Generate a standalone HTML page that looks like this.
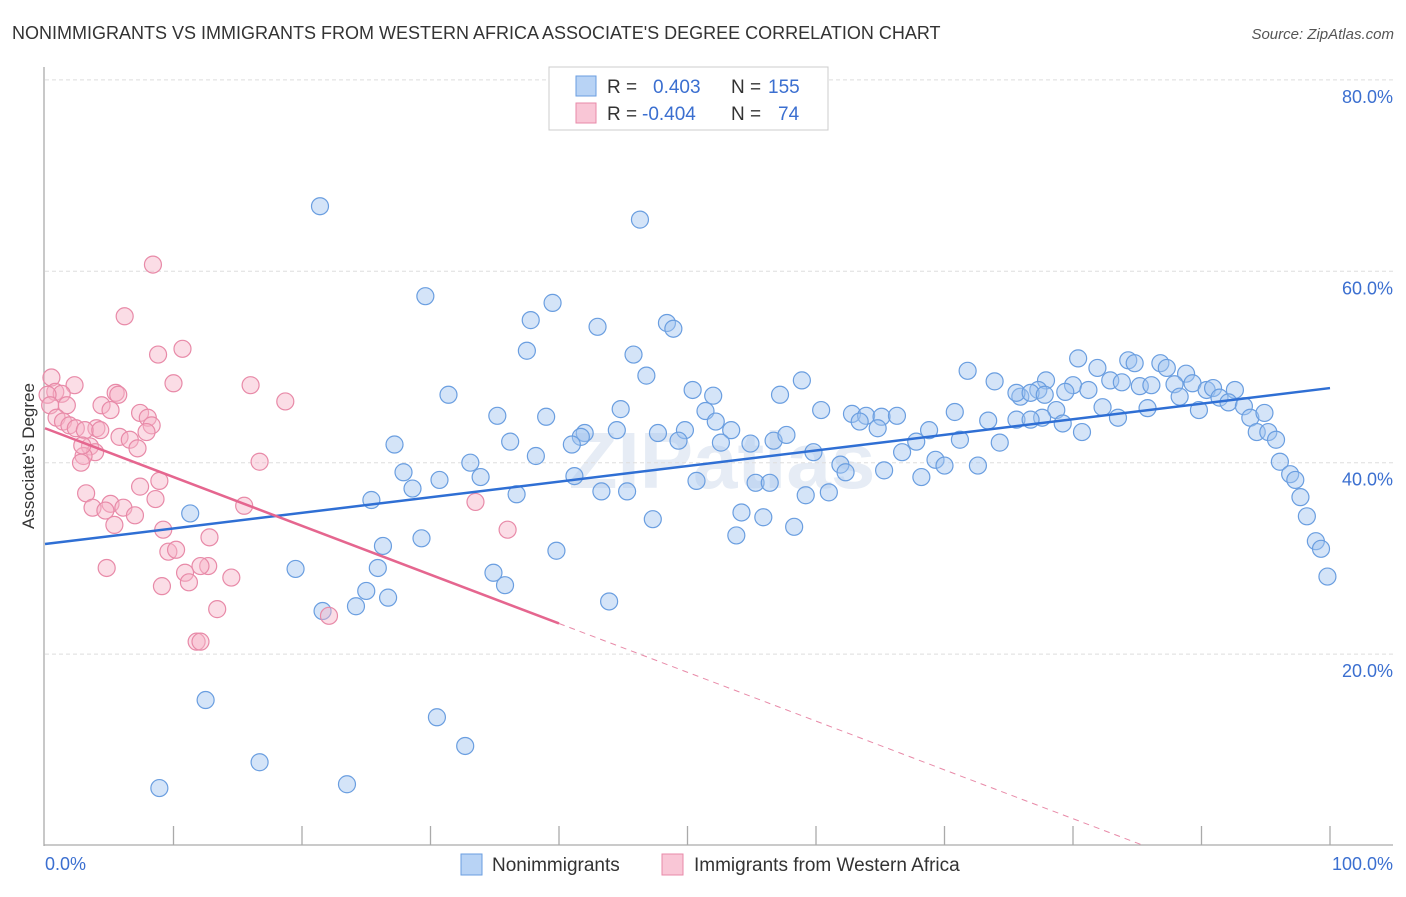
<!DOCTYPE html>
<html><head><meta charset="utf-8"><style>
body{margin:0;background:#fff;font-family:"Liberation Sans",sans-serif;}
svg text{font-family:"Liberation Sans",sans-serif;}
</style></head><body>
<svg id="chart" width="1406" height="892" viewBox="0 0 1406 892" xmlns="http://www.w3.org/2000/svg">
<text x="12" y="39" font-size="18" fill="#333">NONIMMIGRANTS VS IMMIGRANTS FROM WESTERN AFRICA ASSOCIATE'S DEGREE CORRELATION CHART</text>
<text x="1394" y="39" font-size="15" fill="#555" text-anchor="end" font-style="italic">Source: ZipAtlas.com</text>
<text x="722" y="488" font-size="80" fill="#e6ecf5" text-anchor="middle" font-weight="bold" font-family="Liberation Serif">ZIPatlas</text>
<g id="grid"></g>
<g id="axes"></g>
<g id="pts"></g>
<g id="lines"></g>
<text transform="translate(34,456) rotate(-90)" font-size="17" fill="#333" text-anchor="middle">Associate's Degree</text>
<text x="45" y="870" font-size="18" fill="#3b6fd0">0.0%</text>
<text x="1393" y="870" font-size="18" fill="#3b6fd0" text-anchor="end">100.0%</text>
<g>
<rect x="549" y="67" width="279" height="63" fill="#fff" stroke="#ccc"/>
<rect x="576" y="76" width="20" height="20" fill="#b8d3f5" stroke="#6a9ee0"/>
<rect x="576" y="103" width="20" height="20" fill="#f9c6d6" stroke="#e88aa8"/>
<text x="607" y="93" font-size="19" fill="#333">R =</text><text x="653" y="93" font-size="19" fill="#3b6fd0">0.403</text>
<text x="731" y="93" font-size="19" fill="#333">N =</text><text x="768" y="93" font-size="19" fill="#3b6fd0">155</text>
<text x="607" y="120" font-size="19" fill="#333">R =</text><text x="642" y="120" font-size="19" fill="#3b6fd0">-0.404</text>
<text x="731" y="120" font-size="19" fill="#333">N =</text><text x="778" y="120" font-size="19" fill="#3b6fd0">74</text>
</g>
<g>
<rect x="461" y="854" width="21" height="21" fill="#b8d3f5" stroke="#6a9ee0"/>
<text x="492" y="871" font-size="19" fill="#333">Nonimmigrants</text>
<rect x="662" y="854" width="21" height="21" fill="#f9c6d6" stroke="#e88aa8"/>
<text x="694" y="871" font-size="19" fill="#333">Immigrants from Western Africa</text>
</g>
</svg>
<script>
const yTicks=[20,40,60,80];
const yTickLabels=["20.0%","40.0%","60.0%","80.0%"];
const xTicks=[10,20,30,40,50,60,70,80,90,100];
const blueX=[21.4,46.3,29.6,39.5,37.8,43.0,48.4,48.9,37.5,45.8,46.8,31.4,50.4,52.0,57.2,58.9,35.2,39.0,44.8,51.4,60.4,62.8,63.9,65.1,66.3,63.4,64.8,52.2,53.4,49.8,47.7,42.0,41.7,44.5,36.2,27.2,38.2,41.0,49.3,52.6,54.9,56.7,57.7,59.8,61.9,62.3,65.3,66.7,67.8,68.8,70.8,71.8,73.9,75.9,75.6,73.4,74.3,71.2,69.3,70.0,72.6,68.2,80.4,81.9,84.3,84.8,86.8,87.3,88.8,77.9,80.0,81.2,82.9,83.8,85.2,86.1,87.9,89.3,90.4,90.9,92.6,77.3,75.6,76.7,77.8,79.4,82.3,83.5,85.8,88.3,89.8,91.4,92.1,93.3,93.8,94.9,94.3,95.2,95.8,96.1,96.9,97.3,97.7,98.2,98.9,99.3,99.8,78.7,80.7,79.2,77.6,76.7,33.1,33.9,27.9,30.7,28.6,41.2,43.3,45.3,36.7,25.4,11.3,26.3,29.3,39.8,47.3,53.8,54.2,55.9,58.3,59.2,61.0,50.7,55.3,56.4,25.9,19.5,34.9,35.8,25.0,26.7,24.2,21.6,43.9,12.5,30.5,32.7,16.7,8.9,23.5];
const blueY=[66.8,65.4,57.4,56.7,54.9,54.2,54.6,54.0,51.7,51.3,49.1,47.1,47.6,47.0,47.1,48.6,44.9,44.8,45.6,45.4,45.5,45.1,44.9,44.8,44.9,44.3,43.6,44.3,43.4,43.4,43.1,43.1,42.7,43.4,42.2,41.9,40.7,41.9,42.3,42.1,42.0,42.3,42.9,41.1,39.8,39.0,39.2,41.1,42.2,43.4,45.3,49.6,48.5,46.9,44.5,44.4,42.1,42.4,40.3,39.7,39.7,38.5,50.9,49.9,50.7,50.4,50.4,49.9,49.3,48.6,48.1,47.6,48.6,48.4,48.0,48.1,48.2,48.3,47.6,47.8,47.6,47.6,47.3,47.3,47.1,47.4,45.8,44.7,45.7,46.9,45.5,46.8,46.3,45.9,44.7,45.2,43.2,43.2,42.4,40.1,38.8,38.2,36.4,34.4,31.8,31.0,28.1,45.5,43.2,44.1,44.7,44.5,40.0,38.5,39.0,38.2,37.3,38.6,37.0,37.0,36.7,36.1,34.7,31.3,32.1,30.8,34.1,32.4,34.8,34.3,33.3,36.6,36.9,38.1,37.9,37.9,29.0,28.9,28.5,27.2,26.6,25.9,25.0,24.5,25.5,15.2,13.4,10.4,8.7,6.0,6.4];
const pinkX=[8.4,6.2,10.7,8.8,0.5,2.3,10.0,16.0,0.8,1.3,0.2,5.5,5.7,18.7,0.4,1.7,4.4,5.1,7.4,8.0,0.9,1.4,1.9,2.4,4.0,3.1,4.3,8.3,7.9,5.8,6.6,7.2,3.5,3.9,3.0,2.8,16.7,8.9,7.4,3.2,8.6,15.5,3.7,5.1,4.7,6.1,7.0,5.4,9.2,12.8,9.6,10.2,4.8,12.7,12.1,10.9,11.2,9.1,14.5,13.4,11.8,12.1,22.1,33.5,36.0,2.9];
const pinkY=[60.7,55.3,51.9,51.3,48.9,48.1,48.3,48.1,47.4,47.2,47.1,47.3,47.1,46.4,46.0,46.0,46.0,45.5,45.2,44.7,44.7,44.3,43.9,43.6,43.6,43.4,43.4,43.9,43.2,42.7,42.4,41.5,41.7,41.1,40.7,40.0,40.1,38.1,37.5,36.8,36.2,35.5,35.3,35.7,35.0,35.3,34.5,33.5,33.0,32.2,30.7,30.9,29.0,29.2,29.2,28.5,27.5,27.1,28.0,24.7,21.3,21.3,24.0,35.9,33.0,41.8];
const blueTrend=[31.5,47.8];
const pinkTrend=[43.6,-0.51];
const pinkSolidEnd=40;

const NS="http://www.w3.org/2000/svg";
const X0=45,X1=1330,Y0=845.5,YPER=9.57;
function sx(v){return X0+(X1-X0)*v/100;}
function sy(v){return Y0-v*YPER;}
function mk(tag,attrs,parent){const e=document.createElementNS(NS,tag);for(const k in attrs)e.setAttribute(k,attrs[k]);parent.appendChild(e);return e;}
const grid=document.getElementById('grid'),axes=document.getElementById('axes'),pts=document.getElementById('pts'),lines=document.getElementById('lines');
yTicks.forEach((t,i)=>{
  const l=mk('line',{x1:45,x2:1393,y1:sy(t),y2:sy(t),stroke:'#ddd','stroke-dasharray':'4,3'},grid);
  
  
  const tx=mk('text',{x:1393,y:sy(t)+23,'font-size':18,fill:'#3b6fd0','text-anchor':'end'},grid);
  tx.textContent=yTickLabels[i];
  
  
});
const ya=mk('line',{x1:44,x2:44,y1:67,y2:846,stroke:'#aaa','stroke-width':1.3},axes);


const xa=mk('line',{x1:44,x2:1393,y1:845,y2:845,stroke:'#aaa','stroke-width':1.3},axes);


xTicks.forEach(t=>{
  const l=mk('line',{x1:sx(t),x2:sx(t),y1:826,y2:845,stroke:'#aaa','stroke-width':1.3},axes);
  
  
});
blueX.forEach((v,i)=>{
  const c=mk('circle',{cx:sx(v),cy:sy(blueY[i]),r:8.5,fill:'rgba(160,196,240,0.45)',stroke:'#6a9ee0','stroke-width':1.2},pts);
  
  
});
pinkX.forEach((v,i)=>{
  const c=mk('circle',{cx:sx(v),cy:sy(pinkY[i]),r:8.5,fill:'rgba(246,180,200,0.45)',stroke:'#e88aa8','stroke-width':1.2},pts);
  
  
});
const bl=mk('line',{x1:sx(0),y1:sy(blueTrend[0]),x2:sx(100),y2:sy(blueTrend[1]),stroke:'#2f6fd4','stroke-width':2.5},lines);


const pf=x=>pinkTrend[0]+pinkTrend[1]*x;
const pl=mk('line',{x1:sx(0),y1:sy(pf(0)),x2:sx(pinkSolidEnd),y2:sy(pf(pinkSolidEnd)),stroke:'#e5668f','stroke-width':2.5},lines);


const xz=-pinkTrend[0]/pinkTrend[1];
const pd=mk('line',{x1:sx(pinkSolidEnd),y1:sy(pf(pinkSolidEnd)),x2:sx(xz),y2:sy(0),stroke:'#e88aa8','stroke-width':1,'stroke-dasharray':'6,5'},lines);


</script>
</body></html>
